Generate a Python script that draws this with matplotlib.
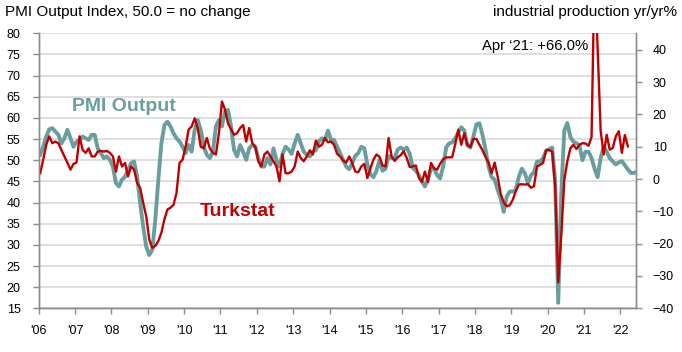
import matplotlib.pyplot as plt
import numpy as np

plt.rcParams['font.family'] = ['Liberation Sans', 'DejaVu Sans']

# PMI Output Index (left axis), monthly Jan 2006 - Jun 2022
pmi_output = [
    51.3, 53.2, 55.6, 57.3, 57.6, 56.8, 56.0, 54.0, 55.2, 57.2, 55.2, 53.2,  # 2006
    54.4, 54.8, 55.6, 55.2, 54.8, 56.0, 56.0, 52.8, 51.7, 50.5, 50.9, 50.1,  # 2007
    48.5, 44.6, 43.8, 45.4, 46.1, 47.7, 49.3, 49.7, 46.1, 39.8, 34.3, 29.6,  # 2008
    27.6, 28.8, 35.9, 45.4, 54.0, 58.3, 59.1, 58.0, 56.4, 55.2, 54.4, 53.2,  # 2009
    51.7, 53.6, 52.0, 57.2, 59.5, 57.2, 53.2, 51.3, 50.5, 52.0, 58.0, 59.5,  # 2010
    58.0, 61.5, 61.9, 58.0, 52.4, 50.9, 53.6, 52.0, 50.1, 52.8, 53.6, 53.2,  # 2011
    50.5, 48.5, 48.5, 50.5, 49.0, 52.8, 50.0, 48.5, 51.5, 53.2, 52.5, 51.5,  # 2012
    54.0, 56.0, 54.0, 52.0, 51.3, 50.9, 52.0, 52.4, 54.5, 55.2, 54.8, 57.0,  # 2013
    54.8, 54.8, 53.2, 51.7, 50.1, 48.5, 47.9, 49.3, 51.0, 51.7, 53.2, 52.8,  # 2014
    49.0, 46.7, 46.0, 47.5, 50.0, 47.5, 48.0, 51.0, 50.5, 50.5, 52.5, 53.0,  # 2015
    52.5, 53.0, 51.5, 48.2, 47.5, 46.5, 45.0, 43.8, 45.5, 48.0, 48.0, 46.5,  # 2016
    45.7, 48.5, 53.0, 54.0, 54.2, 55.2, 56.5, 57.8, 57.0, 53.5, 53.0, 55.6,  # 2017
    58.5, 58.7, 56.0, 52.5, 48.5, 46.0, 45.4, 43.0, 41.0, 37.8, 41.4, 42.6,  # 2018
    42.6, 43.0, 46.1, 48.0, 46.9, 44.6, 46.4, 47.2, 49.7, 49.7, 50.5, 52.2,  # 2019
    52.6, 53.0, 45.0, 16.3, 42.0, 57.0, 58.8, 55.5, 54.4, 54.0, 53.6, 50.0,  # 2020
    52.0, 52.0, 50.5, 48.0, 46.0, 50.5, 53.2, 52.0, 50.5, 49.7, 49.0, 49.5,  # 2021
    49.8, 48.8, 47.8, 47.0, 47.0, 47.3,                                      # 2022
]

# Turkstat industrial production, % yr/yr (right axis), Jan 2006 - Mar 2022
turkstat_ip = [
    1.8, 6.0, 10.6, 13.2, 11.1, 11.6, 11.1, 9.0, 7.0, 5.0, 2.9, 4.7,          # 2006
    5.1, 13.2, 9.0, 8.1, 9.5, 7.0, 7.0, 8.5, 8.7, 8.5, 8.7, 8.1,              # 2007
    7.0, 2.3, 7.0, 3.9, 5.0, 0.8, 3.9, 2.9, -1.2, -2.7, -7.4, -11.5,          # 2008
    -18.7, -21.3, -20.7, -19.2, -16.6, -12.5, -9.4, -8.9, -8.0, -4.3, 5.0, 6.0,  # 2009
    10.0, 15.3, 16.3, 18.8, 15.7, 10.0, 9.5, 12.7, 9.5, 8.1, 7.6, 14.2,       # 2010
    24.0, 21.5, 17.2, 15.4, 13.7, 14.2, 15.8, 16.7, 11.6, 15.8, 11.1, 10.0,   # 2011
    5.5, 3.9, 7.6, 8.5, 7.0, 5.5, 3.9, -0.7, 7.6, 1.8, 1.8, 2.3,              # 2012
    3.9, 8.5, 6.5, 5.5, 7.0, 8.9, 7.6, 11.9, 10.0, 10.6, 12.7, 11.4,          # 2013
    11.6, 10.6, 7.8, 7.0, 5.7, 5.1, 7.0, 5.0, 2.3, 2.1, 3.9, 4.7,             # 2014
    0.3, 3.3, 6.0, 7.6, 6.9, 4.2, 3.9, 12.7, 7.0, 5.6, 6.7, 7.4,              # 2015
    8.6, 6.5, 3.7, 3.9, 4.2, 0.4, -0.9, 2.3, -0.9, 5.0, 3.3, 2.9,             # 2016
    4.7, 6.1, 6.7, 6.7, 6.8, 10.8, 15.3, 10.6, 14.2, 10.6, 9.9, 12.4,         # 2017
    12.4, 10.6, 8.9, 6.8, 5.1, 1.8, 5.1, 0.8, -4.6, -7.2, -8.4, -8.1,         # 2018
    -6.4, -3.7, -1.7, -1.6, -1.7, -1.6, -2.7, -2.2, 3.9, 4.4, 5.0, 9.0,       # 2019
    9.0, 8.5, -2.5, -32.0, -17.5, -0.3, 5.5, 9.5, 10.6, 9.3, 10.6, 11.1,      # 2020
    11.0, 10.3, 13.0, 66.0, 40.7, 15.0, 7.6, 13.7, 9.1, 9.6, 13.2, 14.8,      # 2021
    8.1, 13.6, 10.1,                                                          # 2022
]

years = list(range(2006, 2023))
year_labels = ["'06", "'07", "'08", "'09", "'10", "'11", "'12", "'13", "'14",
               "'15", "'16", "'17", "'18", "'19", "'20", "'21", "'22"]

teal = '#6a9e9e'
red = '#c00000'
axis_grey = '#8c8c8c'

t_pmi = 2006 + (np.arange(len(pmi_output)) + 0.5) / 12
t_ip = 2006 + (np.arange(len(turkstat_ip)) + 0.5) / 12

fig = plt.figure(figsize=(6.82, 3.52), dpi=100)
ax = fig.add_axes([0.0567, 0.1241, 0.8758, 0.7813])
ax2 = ax.twinx()

ax.plot(t_pmi, pmi_output, color=teal, lw=2.8, solid_joinstyle='round')
ax2.plot(t_ip, turkstat_ip, color=red, lw=1.7, solid_joinstyle='round')

ax.set_xlim(2006, 2022.43)
ax.set_ylim(15, 80)
ax2.set_ylim(-40, 45.1)

ax.set_yticks(np.arange(15, 81, 5))
ax2.set_yticks(np.arange(-40, 41, 10))
ax.set_xticks(years)
ax.set_xticklabels(year_labels)

ax.grid(axis='y', color='#d9d9d9', lw=1.2)
ax.set_axisbelow(True)

for a in (ax, ax2):
    a.spines['top'].set_visible(False)
    for s in ('left', 'right', 'bottom'):
        a.spines[s].set_color(axis_grey)
        a.spines[s].set_linewidth(1.0)
    a.tick_params(colors=axis_grey, labelcolor='black', labelsize=9, length=4, width=1.0)
ax.tick_params(axis='y', pad=9)
ax.tick_params(axis='x', pad=8)
ax2.tick_params(axis='y', pad=8)

fig.text(0.0078, 0.955, 'PMI Output Index, 50.0 = no change', fontsize=11, ha='left', va='baseline')
fig.text(0.9927, 0.955, 'industrial production yr/yr%', fontsize=11, ha='right', va='baseline')
fig.text(0.862, 0.859, 'Apr \u201821: +66.0%', fontsize=10.7, ha='right', va='baseline')
fig.text(0.1051, 0.6855, 'PMI Output', fontsize=14, fontweight='bold', color=teal, ha='left', va='baseline')
fig.text(0.2933, 0.3872, 'Turkstat', fontsize=14, fontweight='bold', color=red, ha='left', va='baseline')

fig.savefig('out.png', dpi=100)
